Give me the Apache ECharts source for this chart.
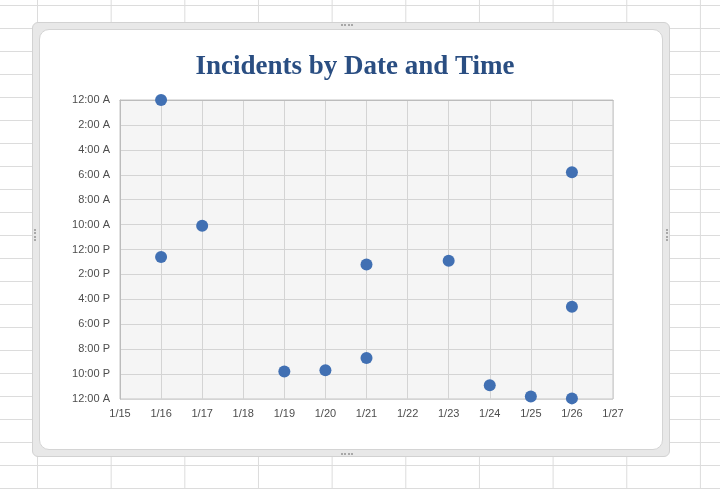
<!DOCTYPE html>
<html>
<head>
<meta charset="utf-8">
<title>Incidents by Date and Time</title>
<script src="https://cdn.jsdelivr.net/npm/echarts@6/dist/echarts.min.js"></script>
<style>
    html, body {
        margin: 0;
        padding: 0;
        width: 720px;
        height: 489px;
        overflow: hidden;
    }
    body {
        position: relative;
        background-color: #ffffff;
        /* spreadsheet cells behind the chart */
        background-image:
            linear-gradient(to right, #dcdcdc 1px, transparent 1px),
            linear-gradient(to bottom, #dcdcdc 1px, transparent 1px);
        background-size: 73.66px 23px;
        background-position: 37px 5px;
    }
    .frame {
        position: absolute;
        left: 32px;
        top: 22px;
        width: 636px;
        height: 433px;
        background: #e8e8e8;
        border: 1px solid #d2d2d2;
        border-radius: 6px;
    }
    .inner {
        position: absolute;
        left: 6px;
        top: 6px;
        right: 6px;
        bottom: 6px;
        background: #ffffff;
        border: 1px solid #d4d4d4;
        border-radius: 10px;
    }
    .handle {
        position: absolute;
        border-color: #a8a8a8;
        border-style: dotted;
        border-width: 0;
    }
    #chart {
        position: absolute;
        left: 0;
        top: 0;
        width: 720px;
        height: 489px;
    }
</style>
</head>
<body>
<div class="frame">
    <div class="handle" style="left:308px;top:1px;width:12px;border-top-width:2px;"></div>
    <div class="handle" style="left:308px;bottom:1px;width:12px;border-bottom-width:2px;"></div>
    <div class="handle" style="left:1px;top:206px;height:12px;border-left-width:2px;"></div>
    <div class="handle" style="right:1px;top:206px;height:12px;border-right-width:2px;"></div>
    <div class="inner"></div>
</div>
<div id="chart"></div>
<script>
    // 日期 (1月的第几天)
    var dayList = [16, 16, 17, 19, 20, 21, 21, 23, 24, 25, 26, 26, 26];
    // 发生时间 (小时)
    var hourList = [0.0, 12.6, 10.1, 21.8, 21.7, 20.7, 13.2, 12.9, 22.9, 23.8, 23.95, 16.6, 5.8];

    var dayMin = 15, dayMax = 27;
    var hourMin = 0, hourMax = 24, hourStep = 2;

    var points = [];
    for (var i = 0; i < dayList.length; i++) {
        points.push([dayList[i], hourList[i]]);
    }

    function hourLabel(h) {
        var hh = h % 12 === 0 ? 12 : h % 12;
        var ap = (h < 12 || h >= 24) ? 'A' : 'P';
        return hh + ':00 ' + ap;
    }

    var labelStyle = {
        color: '#4d4d4d',
        fontSize: 11,
        fontFamily: 'Liberation Sans'
    };

    var chart = echarts.init(document.getElementById('chart'));
    chart.setOption({
        backgroundColor: 'transparent',
        animation: false,
        title: {
            text: 'Incidents by Date and Time',
            left: 350,
            top: 49,
            textAlign: 'center',
            textStyle: {
                fontFamily: 'Liberation Serif',
                fontWeight: 'bold',
                fontSize: 27,
                color: '#2a4e82'
            }
        },
        grid: {
            left: 120,
            right: 107,
            top: 100,
            bottom: 90,
            show: true,
            backgroundColor: '#f5f5f5',
            borderColor: '#c4c4c4',
            borderWidth: 1
        },
        xAxis: {
            type: 'value',
            min: dayMin,
            max: dayMax,
            interval: 1,
            axisLine: { show: true, lineStyle: { color: '#bcbcbc' } },
            axisTick: { show: false },
            axisLabel: Object.assign({
                margin: 9,
                formatter: function (v) { return '1/' + v; }
            }, labelStyle),
            splitLine: { show: true, lineStyle: { color: '#d4d4d4' } }
        },
        yAxis: {
            type: 'value',
            inverse: true,
            min: hourMin,
            max: hourMax,
            interval: hourStep,
            axisLine: { show: true, lineStyle: { color: '#bcbcbc' } },
            axisTick: { show: false },
            axisLabel: Object.assign({
                margin: 10,
                formatter: hourLabel
            }, labelStyle),
            splitLine: { show: true, lineStyle: { color: '#d4d4d4' } }
        },
        series: [
            {
                type: 'scatter',
                symbol: 'circle',
                symbolSize: 12,
                clip: false,
                itemStyle: {
                    color: '#4170b3',
                    opacity: 1
                },
                data: points
            }
        ]
    });
</script>
</body>
</html>
